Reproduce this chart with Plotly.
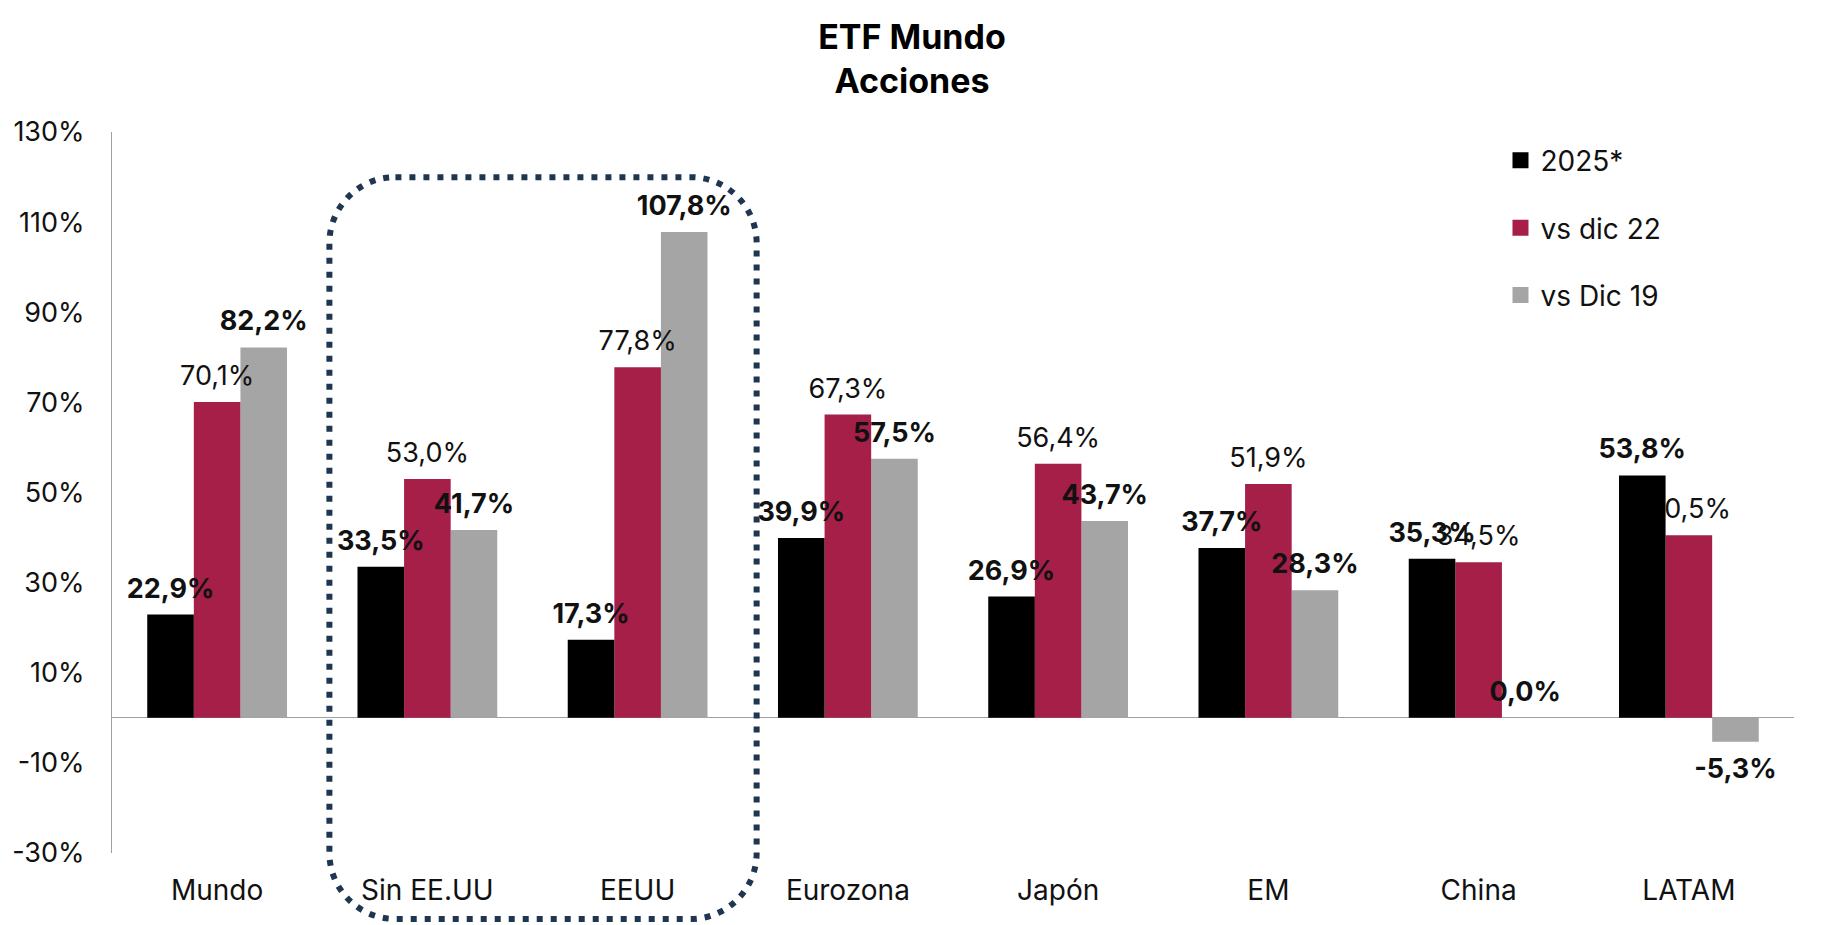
import plotly.graph_objects as go

# ---------------- data ----------------
categories = ["Mundo", "Sin EE.UU", "EEUU", "Eurozona", "Japón", "EM", "China", "LATAM"]
series_names = ["2025*", "vs dic 22", "vs Dic 19"]
ytd_2025 = [22.9, 33.5, 17.3, 39.9, 26.9, 37.7, 35.3, 53.8]
vs_dic22 = [70.1, 53.0, 77.8, 67.3, 56.4, 51.9, 34.5, 40.5]
vs_dic19 = [82.2, 41.7, 107.8, 57.5, 43.7, 28.3, 0.0, -5.3]
y_ticks = [-30, -10, 10, 30, 50, 70, 90, 110, 130]
title_lines = ["ETF Mundo", "Acciones"]

# ---------------- style ----------------
FONT = "Inter"
C_BLACK = "#000000"
C_RED = "#A51F48"
C_GRAY = "#A5A5A5"
C_BOX = "#1F3651"
TXT = "#111111"
BW = 0.2216      # bar width in category units
GAP = 1.55       # label clearance above/below bar end (axis units)
LBL = 27


def fmt(v):
    return f"{v:.1f}%".replace(".", ",")


def lifted(vals):
    return [v + GAP if v >= 0 else v - GAP for v in vals]


fig = go.Figure()
base = dict(x=categories, width=BW, showlegend=False, hoverinfo="skip", cliponaxis=False)


def bars(vals, off, color):
    fig.add_trace(go.Bar(y=vals, offset=off, marker=dict(color=color, line=dict(width=0)), **base))


def label_layer(vals, off, weight):
    fig.add_trace(go.Bar(y=lifted(vals), offset=off,
                         marker=dict(color="rgba(0,0,0,0)", line=dict(width=0)),
                         text=[fmt(v) for v in vals], textposition="outside", constraintext="none",
                         textfont=dict(family=FONT, size=LBL, color=TXT, weight=weight), **base))


# drawing order reproduces the reference's overlaps
bars(vs_dic19, 0.5 * BW, C_GRAY)
bars(vs_dic22, -0.5 * BW, C_RED)
label_layer(vs_dic22, -0.5 * BW, 400)
bars(ytd_2025, -1.5 * BW, C_BLACK)
label_layer(ytd_2025, -1.5 * BW, 700)
label_layer(vs_dic19, 0.5 * BW, 700)

# legend entries
for i, (name, col) in enumerate(zip(series_names, [C_BLACK, C_RED, C_GRAY])):
    fig.add_trace(go.Scatter(x=[None], y=[None], mode="markers", name=name,
                             marker=dict(symbol="square", size=16, color=col),
                             legendgroup=f"g{i}", legendrank=i + 1, hoverinfo="skip"))

# dotted rounded box around Sin EE.UU / EEUU
x0, x1 = 0.534, 2.566
y0, y1 = -0.0915, 0.9374
rx, ry = 0.314, 0.0915
k = 0.5523
path = (
    f"M {x0 + rx},{y1} L {x1 - rx},{y1} "
    f"C {x1 - rx + k * rx},{y1} {x1},{y1 - ry + k * ry} {x1},{y1 - ry} "
    f"L {x1},{y0 + ry} "
    f"C {x1},{y0 + ry - k * ry} {x1 - rx + k * rx},{y0} {x1 - rx},{y0} "
    f"L {x0 + rx},{y0} "
    f"C {x0 + rx - k * rx},{y0} {x0},{y0 + ry - k * ry} {x0},{y0 + ry} "
    f"L {x0},{y1 - ry} "
    f"C {x0},{y1 - ry + k * ry} {x0 + rx - k * rx},{y1} {x0 + rx},{y1} Z"
)
fig.add_shape(type="path", path=path, xref="x", yref="paper",
              line=dict(color=C_BOX, width=6, dash="6px,8px"), layer="above")

fig.update_layout(
    width=1817, height=917,
    barmode="overlay",
    paper_bgcolor="white", plot_bgcolor="white",
    margin=dict(l=104, r=31, t=123.5, b=72),
    font=dict(family=FONT, color=TXT),
    title=dict(text="<br>".join(title_lines), x=0.4975, xanchor="center",
               y=0.955, yanchor="top", yref="container",
               font=dict(family=FONT, size=34, color="#000", weight=700)),
    legend=dict(x=0.8255, xanchor="left", y=0.995, yanchor="top",
                font=dict(family=FONT, size=28, color=TXT),
                traceorder="grouped", tracegroupgap=28,
                bgcolor="rgba(0,0,0,0)", itemclick=False),
    showlegend=True,
)
fig.update_xaxes(type="category", showline=False, showgrid=False, zeroline=False,
                 ticks="", ticklabelstandoff=18, automargin=False,
                 tickfont=dict(family=FONT, size=28, color=TXT))
fig.update_yaxes(range=[-30, 130], tickvals=y_ticks, ticktext=[f"{t}%" for t in y_ticks],
                 showgrid=False, zeroline=True, zerolinecolor="#A0A0A0", zerolinewidth=1,
                 showline=True, linecolor="#A0A0A0", linewidth=1, automargin=False,
                 ticks="", ticklabelstandoff=21,
                 tickfont=dict(family=FONT, size=27, color=TXT))

fig.write_html("out.html")
